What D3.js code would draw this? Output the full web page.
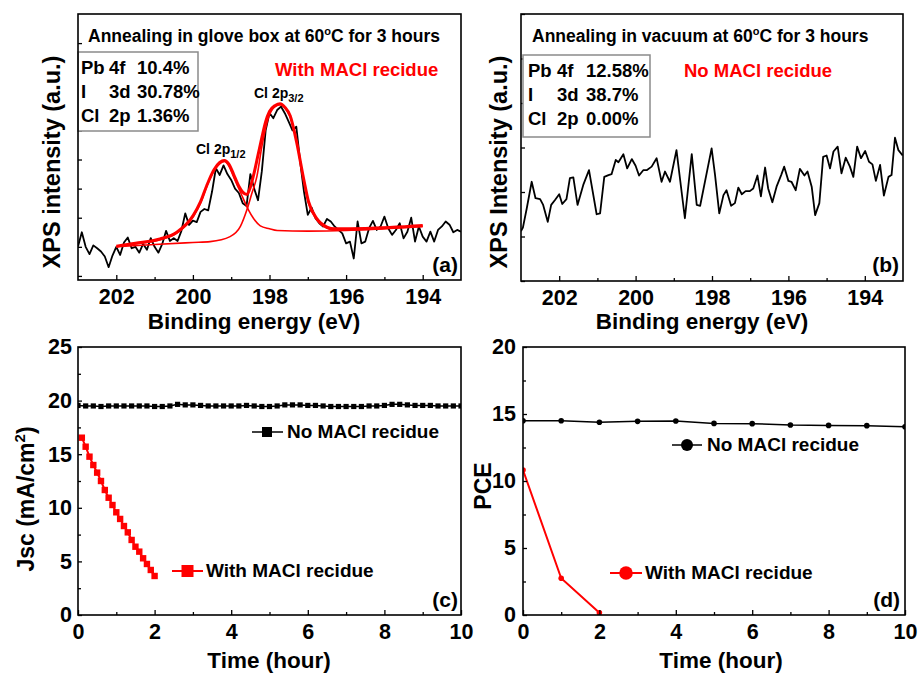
<!DOCTYPE html>
<html>
<head>
<meta charset="utf-8">
<script src="https://cdn.jsdelivr.net/npm/d3@7"></script>
<style>
  body { margin: 0; background: #fff; }
  text { font-family: 'Liberation Sans', Arial, sans-serif; font-weight: bold; fill: #000; }
</style>
</head>
<body>
<div id="chart"></div>
<script>
// ---- data ----
// (a) XPS Cl 2p, glove box anneal: [binding energy eV, intensity a.u.]
const xpsGlove = [
  [203.0,1.01],[202.9,1.5],[202.8,1.0],[202.7,0.75],[202.6,1.05],[202.5,0.95],[202.4,0.84],[202.3,0.67],[202.2,0.3],[202.1,0.7],
  [202.0,1.0],[201.9,0.72],[201.8,1.15],[201.7,1.32],[201.6,0.95],[201.5,1.0],[201.4,0.8],[201.3,1.1],[201.2,0.9],[201.1,1.3],
  [201.0,1.0],[200.9,0.8],[200.8,1.1],[200.7,1.55],[200.6,1.2],[200.5,1.3],[200.4,1.2],[200.3,1.55],[200.2,2.15],[200.1,1.75],
  [200.0,1.9],[199.9,1.85],[199.8,2.2],[199.7,2.3],[199.6,2.25],[199.5,2.9],[199.4,3.7],[199.3,3.47],[199.2,3.8],[199.1,3.5],
  [199.0,3.3],[198.9,3.0],[198.8,2.85],[198.7,2.5],[198.6,2.4],[198.5,3.5],[198.4,3.0],[198.3,2.6],[198.2,3.6],[198.1,5.0],
  [198.0,5.6],[197.9,5.42],[197.8,5.7],[197.7,5.82],[197.6,5.59],[197.5,5.3],[197.4,5.0],[197.3,5.13],[197.2,3.93],[197.1,2.9],
  [197.0,2.1],[196.9,2.35],[196.8,1.98],[196.7,1.81],[196.6,1.7],[196.5,1.96],[196.4,1.87],[196.3,1.7],[196.2,1.58],[196.1,1.46],
  [196.0,1.12],[195.9,1.18],[195.8,0.6],[195.7,1.87],[195.6,1.12],[195.5,1.18],[195.4,1.64],[195.3,1.89],[195.2,1.58],[195.1,1.7],
  [195.0,2.04],[194.9,1.64],[194.8,1.41],[194.7,1.58],[194.6,1.81],[194.5,1.29],[194.4,1.52],[194.3,2.0],[194.2,1.18],[194.1,1.7],
  [194.0,1.35],[193.9,1.18],[193.8,1.52],[193.7,1.18],[193.6,1.58],[193.5,1.7],[193.4,1.87],[193.3,1.76],[193.2,1.5],[193.1,1.58],
  [193.0,1.52]
];
// (a) fitted components
const fitHalf = [  // Cl 2p1/2
  [202.0,1.0],[201.5,1.1],[200.86,1.24],[200.42,1.47],[199.99,2.04],[199.8,2.5],[199.64,3.07],[199.45,3.6],[199.3,3.85],[199.18,3.93],
  [199.05,3.75],[198.94,3.41],[198.75,2.85],[198.55,2.27],[198.42,1.98],[198.24,1.72],[198.0,1.62],[197.8,1.56],[197.0,1.54],[196.0,1.56],
  [195.0,1.62],[194.0,1.69]
];
const fitThreeHalf = [  // Cl 2p3/2
  [202.0,1.0],[201.0,1.08],[200.0,1.15],[199.55,1.18],[199.03,1.35],[198.76,1.7],[198.59,2.27],[198.46,2.84],[198.33,3.41],[198.2,4.44],
  [198.02,5.47],[197.85,5.82],[197.72,5.88],[197.6,5.78],[197.46,5.47],[197.28,4.56],[197.11,3.3],[196.98,2.5],[196.76,1.92],[196.5,1.64],
  [196.33,1.58],[195.5,1.6],[194.0,1.73]
];
const fitSum = [
  [202.0,1.02],[201.5,1.12],[200.86,1.27],[200.42,1.5],[199.99,2.08],[199.8,2.55],[199.64,3.1],[199.45,3.65],[199.3,3.9],[199.18,3.97],
  [199.05,3.82],[198.94,3.5],[198.8,3.08],[198.7,2.88],[198.59,2.8],[198.5,3.05],[198.4,3.55],[198.3,4.15],[198.2,4.75],[198.1,5.3],
  [198.0,5.65],[197.85,5.86],[197.72,5.92],[197.6,5.8],[197.46,5.5],[197.3,4.65],[197.11,3.35],[196.98,2.55],[196.76,1.96],[196.5,1.68],
  [196.3,1.62],[195.5,1.63],[194.0,1.73]
];
// (b) XPS Cl 2p, vacuum anneal
const xpsVacuum = [
  [203.0,1.12],[202.95,1.2],[202.85,1.63],[202.72,2.23],[202.62,1.86],[202.5,1.84],[202.42,1.71],[202.3,1.33],[202.21,1.71],[202.11,1.82],
  [202.0,1.95],[201.92,1.73],[201.81,1.84],[201.72,2.31],[201.63,2.33],[201.52,1.71],[201.37,2.16],[201.22,2.49],[201.02,1.5],[200.93,1.52],
  [200.82,2.34],[200.71,2.38],[200.63,2.4],[200.52,2.72],[200.45,2.67],[200.32,2.85],[200.22,2.53],[200.1,2.74],[200.0,2.59],[199.91,2.37],
  [199.8,2.49],[199.71,2.49],[199.58,2.57],[199.45,2.76],[199.32,2.23],[199.23,2.46],[199.1,2.23],[198.93,2.94],[198.71,1.41],[198.53,2.85],
  [198.4,1.71],[198.31,1.69],[198.01,2.98],[197.92,2.38],[197.81,1.52],[197.7,1.93],[197.62,2.04],[197.5,1.69],[197.4,1.75],[197.31,2.1],
  [197.22,1.95],[197.12,2.02],[197.01,2.02],[196.92,2.08],[196.81,2.37],[196.72,1.9],[196.61,2.55],[196.53,2.08],[196.42,1.77],[196.31,2.12],
  [196.19,2.38],[196.11,2.57],[196.0,2.25],[195.92,2.23],[195.81,2.04],[195.7,2.52],[195.58,2.37],[195.5,2.46],[195.39,2.12],[195.3,1.48],
  [195.19,1.75],[195.09,2.79],[195.0,2.82],[194.91,2.53],[194.82,2.91],[194.71,3.02],[194.61,2.42],[194.5,2.77],[194.39,2.57],[194.3,2.34],
  [194.2,3.02],[194.1,2.76],[193.99,2.92],[193.89,2.68],[193.8,2.62],[193.71,2.25],[193.6,2.61],[193.5,1.92],[193.38,2.34],[193.3,2.38],
  [193.21,3.22],[193.12,2.94],[193.01,2.82]
];
// (c) Jsc vs time
const jscNoTime = [0,0.2,0.4,0.6,0.8,1,1.2,1.4,1.6,1.8,2,2.2,2.4,2.6,2.8,3,3.2,3.4,3.6,3.8,4,4.2,4.4,4.6,4.8,5,
  5.2,5.4,5.6,5.8,6,6.2,6.4,6.6,6.8,7,7.2,7.4,7.6,7.8,8,8.2,8.4,8.6,8.8,9,9.2,9.4,9.6,9.8,10];
const jscNo = [19.55,19.5,19.5,19.45,19.5,19.5,19.5,19.5,19.5,19.5,19.45,19.45,19.5,19.65,19.6,19.6,19.55,19.5,19.5,19.5,19.5,19.5,19.55,19.5,19.45,19.45,
  19.5,19.6,19.6,19.6,19.55,19.55,19.5,19.45,19.45,19.45,19.45,19.45,19.5,19.5,19.55,19.65,19.65,19.6,19.55,19.55,19.55,19.5,19.5,19.5,19.5];
const jscWithTime = [0.1,0.2,0.3,0.4,0.5,0.6,0.7,0.8,0.9,1.0,1.1,1.2,1.3,1.4,1.5,1.6,1.7,1.8,1.9,2.0];
const jscWith = [16.54,15.7,14.77,13.99,13.28,12.5,11.66,10.94,10.26,9.58,8.96,8.3,7.71,7.0,6.37,5.91,5.29,4.76,4.2,3.64];
// (d) PCE vs time
const pceTime = [0,1,2,3,4,5,6,7,8,9,10];
const pceNo = [14.5,14.5,14.38,14.45,14.48,14.3,14.28,14.18,14.15,14.13,14.05];
const pceWithTime = [0,1,2];
const pceWith = [10.82,2.74,0.17];

const RED = '#ff0000';

// ---- layout ----
const svg = d3.select('#chart').append('svg').attr('width', 918).attr('height', 675);
const defs = svg.append('defs');

function makePanel(id, box, xDomain, yDomain) {
  const x = d3.scaleLinear().domain(xDomain).range([box.left, box.right]);
  const y = d3.scaleLinear().domain(yDomain).range([box.bottom, box.top]);
  defs.append('clipPath').attr('id', 'clip-' + id)
    .append('rect').attr('x', box.left).attr('y', box.top)
    .attr('width', box.right - box.left).attr('height', box.bottom - box.top);
  const g = svg.append('g').attr('id', 'panel-' + id);
  const plot = g.append('g').attr('clip-path', `url(#clip-${id})`);
  return { id, box, x, y, g, plot };
}

function cleanAxis(sel, fontSize) {
  sel.attr('font-family', null).attr('font-size', null);
  sel.select('.domain').remove();
  sel.selectAll('line').attr('stroke', '#000').attr('stroke-width', 1.3);
  sel.selectAll('text').style('font-size', fontSize + 'px');
}

function drawAxes(p, opt) {
  const b = p.box;
  const bottom = (ticks, size, labels) =>
    p.g.append('g').attr('transform', `translate(0,${b.bottom})`)
      .call(d3.axisBottom(p.x).tickValues(ticks).tickSize(-size).tickPadding(9)
        .tickFormat(labels ? d3.format('d') : ''))
      .call(cleanAxis, 21.5);
  const left = (ticks, size, labels) =>
    p.g.append('g').attr('transform', `translate(${b.left},0)`)
      .call(d3.axisLeft(p.y).tickValues(ticks).tickSize(-size).tickPadding(opt.yPad || 6)
        .tickFormat(labels ? d3.format('d') : ''))
      .call(cleanAxis, 21.5);
  if (opt.xMinor) bottom(opt.xMinor, 3, false);
  bottom(opt.xMajor, 5, true);
  if (opt.yMinor) left(opt.yMinor, 3, false);
  left(opt.yMajor, 4, opt.yLabels);
}

function frame(p) {
  const b = p.box;
  p.g.append('rect').attr('x', b.left).attr('y', b.top)
    .attr('width', b.right - b.left).attr('height', b.bottom - b.top)
    .attr('fill', 'none').attr('stroke', '#000').attr('stroke-width', 1.6);
}

function label(g, x, y, txt, size, opts = {}) {
  const t = g.append('text').attr('x', x).attr('y', y).style('font-size', size + 'px')
    .attr('text-anchor', opts.anchor || 'start');
  if (opts.rotate) t.attr('transform', `rotate(-90,${x},${y})`);
  if (opts.fill) t.style('fill', opts.fill);
  t.text(txt);
  return t;
}

// annealing title with superscript degree mark
function annealTitle(g, x, y, before, after) {
  const t = g.append('text').attr('x', x).attr('y', y).style('font-size', '17.5px');
  t.append('tspan').text(before);
  t.append('tspan').attr('dy', -7).style('font-size', '11px').text('o');
  t.append('tspan').attr('dy', 7).text(after);
}

function compBox(g, box, rows, cols) {
  g.append('rect').attr('x', box.x).attr('y', box.y).attr('width', box.w).attr('height', box.h)
    .attr('fill', '#fff').attr('stroke', '#8a8a8a').attr('stroke-width', 1.5);
  rows.forEach((r, i) => {
    r.forEach((s, j) => label(g, cols[j], box.y + 21.5 + i * 24, s, 18.5));
  });
}

// ================= (a) =================
const pa = makePanel('a', { left: 78, right: 461, top: 14, bottom: 280 }, [203, 193], [-0.14, 9]);
drawAxes(pa, { xMajor: [202, 200, 198, 196, 194], xMinor: [201, 199, 197, 195],
  yMajor: [0, 1, 2, 3, 4, 5, 6, 7, 8], yLabels: false });
const lineA = d3.line().x(d => pa.x(d[0])).y(d => pa.y(d[1]));
const fitLine = d3.line().x(d => pa.x(d[0])).y(d => pa.y(d[1])).curve(d3.curveMonotoneX);
pa.plot.append('path').datum(xpsGlove).attr('d', lineA)
  .attr('fill', 'none').attr('stroke', '#000').attr('stroke-width', 1.8).attr('stroke-linejoin', 'round');
pa.plot.append('path').datum(fitHalf).attr('d', fitLine)
  .attr('fill', 'none').attr('stroke', RED).attr('stroke-width', 1.6);
pa.plot.append('path').datum(fitThreeHalf).attr('d', fitLine)
  .attr('fill', 'none').attr('stroke', RED).attr('stroke-width', 1.6);
pa.plot.append('path').datum(fitSum).attr('d', fitLine)
  .attr('fill', 'none').attr('stroke', RED).attr('stroke-width', 3);
compBox(pa.g, { x: 78, y: 52, w: 120, h: 79 },
  [['Pb', '4f', '10.4%'], ['I', '3d', '30.78%'], ['Cl', '2p', '1.36%']], [81, 109, 137]);
frame(pa);
annealTitle(pa.g, 88, 42, 'Annealing in glove box at 60', 'C for 3 hours');
label(pa.g, 275, 76, 'With MACl recidue', 18.5, { fill: RED });
[[254, 98, '3/2'], [196, 154, '1/2']].forEach(([x, y, sub]) => {
  const t = pa.g.append('text').attr('x', x).attr('y', y).style('font-size', '14px');
  t.append('tspan').text('Cl 2p');
  t.append('tspan').attr('dy', 4).style('font-size', '11px').text(sub);
});
label(pa.g, 458, 272, '(a)', 21, { anchor: 'end' });
label(pa.g, 254, 329, 'Binding energy (eV)', 22.5, { anchor: 'middle' });
label(pa.g, 60, 162, 'XPS intensity (a.u.)', 23.5, { anchor: 'middle', rotate: true });

// ================= (b) =================
const pb = makePanel('b', { left: 521, right: 903, top: 14, bottom: 281 }, [203, 193], [0, 6]);
drawAxes(pb, { xMajor: [202, 200, 198, 196, 194], xMinor: [201, 199, 197, 195],
  yMajor: [0, 1, 2, 3, 4, 5, 6], yLabels: false });
pb.plot.append('path').datum(xpsVacuum)
  .attr('d', d3.line().x(d => pb.x(d[0])).y(d => pb.y(d[1])))
  .attr('fill', 'none').attr('stroke', '#000').attr('stroke-width', 1.8).attr('stroke-linejoin', 'round');
compBox(pb.g, { x: 523, y: 55, w: 127, h: 82 },
  [['Pb', '4f', '12.58%'], ['I', '3d', '38.7%'], ['Cl', '2p', '0.00%']], [528, 557, 586]);
frame(pb);
annealTitle(pb.g, 532, 42, 'Annealing in vacuum at 60', 'C for 3 hours');
label(pb.g, 684, 77, 'No MACl recidue', 18.5, { fill: RED });
label(pb.g, 899, 272, '(b)', 21, { anchor: 'end' });
label(pb.g, 702, 329, 'Binding energy (eV)', 22.5, { anchor: 'middle' });
label(pb.g, 507, 162, 'XPS Intensity (a.u.)', 23.5, { anchor: 'middle', rotate: true });

// ================= (c) =================
const pc = makePanel('c', { left: 78, right: 461, top: 347, bottom: 615 }, [0, 10], [0, 25]);
drawAxes(pc, { xMajor: [0, 2, 4, 6, 8, 10], xMinor: [1, 3, 5, 7, 9],
  yMajor: [0, 5, 10, 15, 20, 25], yMinor: [2.5, 7.5, 12.5, 17.5, 22.5], yLabels: true, yPad: 6 });
const jscNoPts = jscNoTime.map((t, i) => [t, jscNo[i]]);
const jscWithPts = jscWithTime.map((t, i) => [t, jscWith[i]]);
const lineC = d3.line().x(d => pc.x(d[0])).y(d => pc.y(d[1]));
pc.plot.append('path').datum(jscNoPts).attr('d', lineC)
  .attr('fill', 'none').attr('stroke', '#000').attr('stroke-width', 1.5);
pc.plot.selectAll('rect.no').data(jscNoPts).enter().append('rect').attr('class', 'no')
  .attr('x', d => pc.x(d[0]) - 2.6).attr('y', d => pc.y(d[1]) - 2.6)
  .attr('width', 5.2).attr('height', 5.2).attr('fill', '#000');
pc.plot.append('path').datum(jscWithPts).attr('d', lineC)
  .attr('fill', 'none').attr('stroke', RED).attr('stroke-width', 2);
pc.plot.selectAll('rect.with').data(jscWithPts).enter().append('rect').attr('class', 'with')
  .attr('x', d => pc.x(d[0]) - 3.2).attr('y', d => pc.y(d[1]) - 3.2)
  .attr('width', 6.4).attr('height', 6.4).attr('fill', RED);
frame(pc);
// legend
pc.g.append('line').attr('x1', 252).attr('x2', 283).attr('y1', 432).attr('y2', 432)
  .attr('stroke', '#000').attr('stroke-width', 1.5);
pc.g.append('rect').attr('x', 262).attr('y', 427).attr('width', 10).attr('height', 10).attr('fill', '#000');
label(pc.g, 287, 438, 'No MACl recidue', 19);
pc.g.append('line').attr('x1', 172).attr('x2', 203).attr('y1', 571).attr('y2', 571)
  .attr('stroke', RED).attr('stroke-width', 2);
pc.g.append('rect').attr('x', 181.5).attr('y', 565).attr('width', 12).attr('height', 12).attr('fill', RED);
label(pc.g, 206, 577, 'With MACl recidue', 19);
label(pc.g, 458, 607, '(c)', 21, { anchor: 'end' });
label(pc.g, 269, 668, 'Time (hour)', 22.5, { anchor: 'middle' });
const jl = pc.g.append('text').attr('transform', 'translate(34,499) rotate(-90)')
  .attr('text-anchor', 'middle').style('font-size', '23px');
jl.append('tspan').text('Jsc (mA/cm');
jl.append('tspan').attr('dy', -9).style('font-size', '15px').text('2');
jl.append('tspan').attr('dy', 9).text(')');

// ================= (d) =================
const pd = makePanel('d', { left: 523, right: 905, top: 347, bottom: 615 }, [0, 10], [0, 20]);
drawAxes(pd, { xMajor: [0, 2, 4, 6, 8, 10], xMinor: [1, 3, 5, 7, 9],
  yMajor: [0, 5, 10, 15, 20], yMinor: [2.5, 7.5, 12.5, 17.5], yLabels: true, yPad: 7 });
const pceNoPts = pceTime.map((t, i) => [t, pceNo[i]]);
const pceWithPts = pceWithTime.map((t, i) => [t, pceWith[i]]);
const lineD = d3.line().x(d => pd.x(d[0])).y(d => pd.y(d[1]));
pd.plot.append('path').datum(pceNoPts).attr('d', lineD)
  .attr('fill', 'none').attr('stroke', '#000').attr('stroke-width', 1.5);
pd.plot.selectAll('circle.no').data(pceNoPts).enter().append('circle').attr('class', 'no')
  .attr('cx', d => pd.x(d[0])).attr('cy', d => pd.y(d[1])).attr('r', 2.8).attr('fill', '#000');
pd.plot.append('path').datum(pceWithPts).attr('d', lineD)
  .attr('fill', 'none').attr('stroke', RED).attr('stroke-width', 2);
pd.plot.selectAll('circle.with').data(pceWithPts).enter().append('circle').attr('class', 'with')
  .attr('cx', d => pd.x(d[0])).attr('cy', d => pd.y(d[1])).attr('r', 2.8).attr('fill', RED);
frame(pd);
pd.g.append('line').attr('x1', 672).attr('x2', 702).attr('y1', 445).attr('y2', 445)
  .attr('stroke', '#000').attr('stroke-width', 1.5);
pd.g.append('circle').attr('cx', 687).attr('cy', 445).attr('r', 6).attr('fill', '#000');
label(pd.g, 707, 451, 'No MACl recidue', 19);
pd.g.append('line').attr('x1', 610).attr('x2', 642).attr('y1', 573).attr('y2', 573)
  .attr('stroke', RED).attr('stroke-width', 2);
pd.g.append('circle').attr('cx', 626).attr('cy', 573).attr('r', 6.8).attr('fill', RED);
label(pd.g, 645, 579, 'With MACl recidue', 19);
label(pd.g, 900, 607, '(d)', 21, { anchor: 'end' });
label(pd.g, 721, 668, 'Time (hour)', 22.5, { anchor: 'middle' });
label(pd.g, 491, 486, 'PCE', 23, { anchor: 'middle', rotate: true });
</script>
</body>
</html>
